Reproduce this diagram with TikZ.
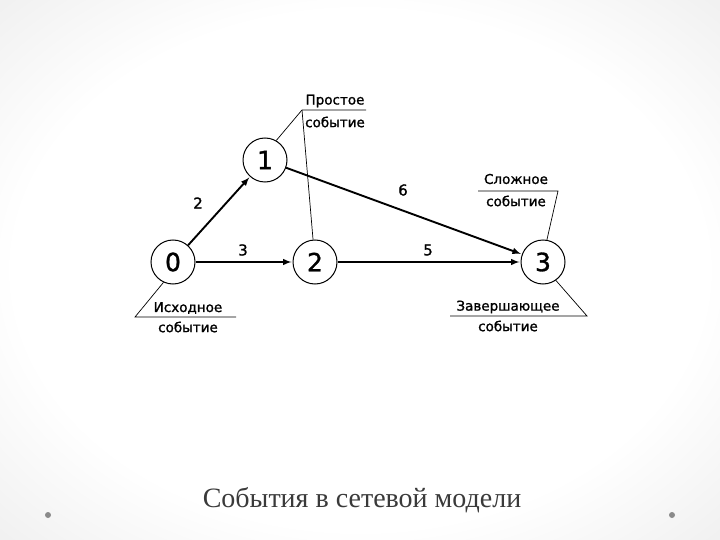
\documentclass[tikz,border=0pt]{standalone}
\usepackage{fontspec}
\setmainfont{Liberation Serif}
\newfontfamily\diagfont[FakeBold=1.2]{DejaVu Sans}
\definecolor{captiongray}{HTML}{3A3A3A}
\definecolor{dotgray}{HTML}{8A8A8A}
\pgfdeclareradialshading{slidebg}{\pgfpoint{0bp}{0bp}}{color(0bp)=(white); color(24bp)=(white); color(40bp)=(gray!16); color(50bp)=(gray!22)}
\begin{document}
\begin{tikzpicture}[x=1pt,y=-1pt,
    event/.style={draw,circle,line width=1pt,minimum size=44pt,inner sep=0pt,font=\diagfont\fontsize{25}{25}\selectfont},
    work/.style={-latex,line width=1.9pt,shorten >=1pt},
    worklabel/.style={inner sep=1pt,font=\diagfont\fontsize{15}{15}\selectfont},
    note/.style={inner sep=1pt,font=\diagfont\fontsize{13.5}{13.5}\selectfont},
    callout/.style={line width=0.7pt}
]
\useasboundingbox (0,0) rectangle (720,540);
\shade[shading=slidebg] (0,0) rectangle (720,540);
\fill[white] (130,85) rectangle (590,350);

% events
\node[event] (n0) at (173,262) {0};
\node[event] (n1) at (265,160) {1};
\node[event] (n2) at (315,262) {2};
\node[event] (n3) at (543,262) {3};

% works
\draw[work] (n0) -- (n1);
\draw[work] (n0) -- (n2);
\draw[work] (n2) -- (n3);
\draw[work] (n1) -- (n3);
\node[worklabel] (w2) at (198,203) {2};
\node[worklabel] (w3) at (243,250) {3};
\node[worklabel] (w6) at (403,190) {6};
\node[worklabel] (w5) at (428,250) {5};

% notes
\node[note] (simpleA) at (335,101) {Простое};
\node[note] (simpleB) at (335,122) {событие};
\coordinate (simpleL) at (302,110);
\coordinate (simpleR) at (366,110);
\draw[callout] (simpleR) -- (simpleL) -- (n1.60);
\draw[callout] (simpleL) -- (n2.95);

\node[note] (complexA) at (516,179) {Сложное};
\node[note] (complexB) at (516,201) {событие};
\coordinate (complexL) at (478,191);
\coordinate (complexR) at (558,191);
\draw[callout] (complexL) -- (complexR) -- (n3.80);

\node[note] (startA) at (188,308) {Исходное};
\node[note] (startB) at (188,327) {событие};
\coordinate (startL) at (135,317);
\coordinate (startR) at (236,317);
\draw[callout] (startR) -- (startL) -- (n0.-115);

\node[note] (finalA) at (508,307) {Завершающее};
\node[note] (finalB) at (508,326) {событие};
\coordinate (finalL) at (450,316);
\coordinate (finalR) at (587,316);
\draw[callout] (finalL) -- (finalR) -- (n3.-55);

% caption
\node[text=captiongray,font=\fontsize{28}{28}\selectfont] (caption) at (362,500) {События в сетевой модели};
\fill[dotgray] (48,515) circle (3);
\fill[dotgray] (672,515) circle (3);
\end{tikzpicture}
\end{document}
